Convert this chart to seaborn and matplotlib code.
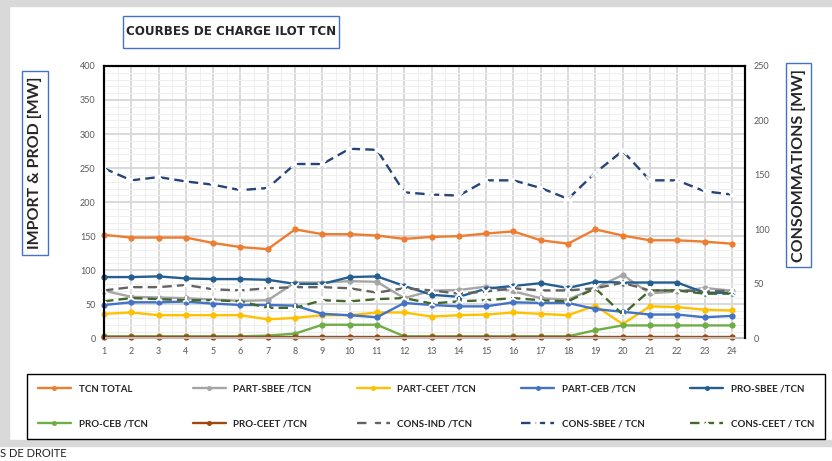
import numpy as np
import pandas as pd
import matplotlib
matplotlib.use('Agg')
import matplotlib.pyplot as plt
import seaborn as sns
from matplotlib.patches import Rectangle
from matplotlib.ticker import MultipleLocator

heures = list(range(1, 25))

# axe de gauche : import & production
tcn_total = [152, 148, 148, 148, 140, 134, 131, 160, 153, 153, 151, 146,
             149, 150, 154, 157, 144, 139, 160, 151, 144, 144, 142, 139]
part_sbee = [70, 61, 60, 59, 57, 55, 56, 82, 82, 84, 83, 59,
             70, 71, 76, 69, 59, 57, 74, 93, 66, 69, 74, 70]
part_ceet = [36, 38, 34, 34, 34, 34, 28, 30, 34, 34, 38, 38,
             32, 34, 35, 38, 36, 34, 48, 21, 47, 46, 42, 41]
part_ceb = [49, 53, 53, 54, 51, 49, 49, 48, 36, 34, 31, 52,
            49, 47, 47, 53, 52, 52, 43, 39, 35, 35, 31, 33]
pro_sbee = [90, 90, 91, 88, 87, 87, 86, 80, 80, 90, 91, 77,
            64, 61, 73, 77, 81, 74, 83, 82, 82, 82, 67, 67]
pro_ceb = [3, 3, 3, 3, 3, 3, 4, 7, 20, 20, 20, 3,
           3, 3, 3, 3, 3, 3, 12, 19, 19, 19, 19, 19]
pro_ceet = [2.5] * 24

# axe de droite : consommations
cons_ind = [44, 47, 47, 49, 45, 44, 46, 47, 47, 46, 42, 46,
            44, 41, 43, 46, 44, 44, 46, 51, 44, 44, 43, 44]
cons_sbee = [156, 145, 148, 144, 141, 136, 138, 160, 160, 174, 173, 134,
             132, 131, 145, 145, 138, 128, 152, 172, 145, 145, 135, 132]
cons_ceet = [34, 37, 36, 35, 35, 34, 28, 28, 35, 34, 36, 37,
             32, 34, 35, 37, 35, 34, 46, 22, 44, 44, 41, 41]

sns.set_style('white')
plt.rcParams['font.family'] = ['Lato', 'DejaVu Sans']

fig = plt.figure(figsize=(8.32, 4.61), dpi=100)

# cadre gris autour du graphique
gris = '#d9d9d9'
fig.patches.append(Rectangle((0, 0.045), 0.011, 0.955, transform=fig.transFigure, color=gris, zorder=0))
fig.patches.append(Rectangle((0, 0.987), 1, 0.013, transform=fig.transFigure, color=gris, zorder=0))
fig.patches.append(Rectangle((0, 0.033), 1, 0.013, transform=fig.transFigure, color=gris, zorder=0))

ax = fig.add_axes([0.125, 0.266, 0.771, 0.591])
ax2 = ax.twinx()

lw = 1.7
ms = 4.5
gauche = [
    ('TCN TOTAL', tcn_total, '#ED7D31'),
    ('PART-SBEE /TCN', part_sbee, '#A5A5A5'),
    ('PART-CEET /TCN', part_ceet, '#FFC000'),
    ('PART-CEB /TCN', part_ceb, '#4472C4'),
    ('PRO-SBEE /TCN', pro_sbee, '#255E91'),
    ('PRO-CEB /TCN', pro_ceb, '#70AD47'),
    ('PRO-CEET /TCN', pro_ceet, '#9E480E'),
]
droite = [
    ('CONS-IND /TCN', cons_ind, '#636363', 'x'),
    ('CONS-SBEE / TCN', cons_sbee, '#264478', 'x'),
    ('CONS-CEET / TCN', cons_ceet, '#43682B', '2'),
]

handles = {}
for nom, vals, col in gauche:
    sns.lineplot(x=heures, y=vals, ax=ax, color=col, linewidth=lw, marker='o',
                 markersize=ms, markeredgewidth=0, clip_on=False, label=nom, legend=False)
    handles[nom] = ax.get_lines()[-1]
for nom, vals, col, mk in droite:
    sns.lineplot(x=heures, y=vals, ax=ax2, color=col, linewidth=lw, marker=mk,
                 markersize=5.5, markeredgewidth=1.4, linestyle=(0, (4, 2.2)),
                 clip_on=False, label=nom, legend=False)
    handles[nom] = ax2.get_lines()[-1]

# axes
ax.set_xlim(1, 24.5)
ax.set_ylim(0, 400)
ax2.set_ylim(0, 250)
ax.set_xticks(heures)
ax.set_yticks(np.arange(0, 401, 50))
ax2.set_yticks(np.arange(0, 251, 50))
ax.xaxis.set_minor_locator(MultipleLocator(0.5))
ax.yaxis.set_minor_locator(MultipleLocator(10))
ax.grid(which='major', color='#d9d9d9', linewidth=1.4)
ax.grid(which='minor', color='#efefef', linewidth=0.8)
ax.set_axisbelow(True)
for a in (ax, ax2):
    a.tick_params(which='both', length=0, labelsize=6.5, labelcolor='#595959', pad=6)
    a.set_xlabel('')
    a.set_ylabel('')
for s in ('left', 'top', 'right'):
    ax.spines[s].set_color('black')
    ax.spines[s].set_linewidth(1.5)
    ax2.spines[s].set_color('black')
    ax2.spines[s].set_linewidth(1.5)
ax.spines['bottom'].set_color('#bfbfbf')
ax.spines['bottom'].set_linewidth(1.5)
ax2.spines['bottom'].set_visible(False)

# titre dans un cadre bleu
fig.patches.append(Rectangle((0.148, 0.896), 0.259, 0.069, transform=fig.transFigure,
                             fc='white', ec='#4472C4', lw=1, zorder=3))
fig.text(0.2776, 0.931, 'COURBES DE CHARGE ILOT TCN', ha='center', va='center',
         fontsize=9.5, fontweight='bold', family='DejaVu Sans', fontstretch='condensed',
         zorder=4)
boite = dict(boxstyle='square,pad=0.35', fc='white', ec='#4472C4', lw=1)
fig.text(0.042, 0.647, 'IMPORT & PROD [MW]', ha='center', va='center', rotation=90,
         fontsize=11.5, fontweight='bold', bbox=boite)
fig.text(0.960, 0.642, 'CONSOMMATIONS [MW]', ha='center', va='center', rotation=90,
         fontsize=11.5, fontweight='bold', bbox=boite)
fig.text(0.0, 0.017, 'S DE DROITE', ha='left', va='center', fontsize=8, color='#222222')

# légende sur 2 lignes x 5 colonnes (ordre colonne par colonne)
ordre = ['TCN TOTAL', 'PRO-CEB /TCN', 'PART-SBEE /TCN', 'PRO-CEET /TCN',
         'PART-CEET /TCN', 'CONS-IND /TCN', 'PART-CEB /TCN', 'CONS-SBEE / TCN',
         'PRO-SBEE /TCN', 'CONS-CEET / TCN']
leg = fig.legend([handles[n] for n in ordre], ordre, ncol=5, loc='lower left',
                 bbox_to_anchor=(0.0325, 0.048, 0.959, 0.154), mode='expand',
                 frameon=True, fancybox=False, edgecolor='black', framealpha=1,
                 prop={'weight': 'bold', 'size': 7}, handlelength=3.4,
                 labelspacing=2.6, borderaxespad=0, borderpad=1.1, markerscale=0.8)
leg.get_frame().set_linewidth(1)

fig.savefig('out.png', dpi=100)
